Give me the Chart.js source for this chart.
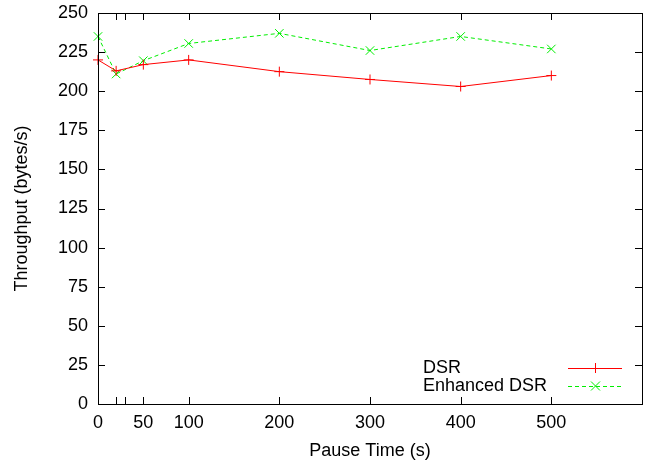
<!DOCTYPE html>
<html>
<head>
<meta charset="utf-8">
<script src="https://cdn.jsdelivr.net/npm/chart.js@4.4.1/dist/chart.umd.min.js"></script>
<style>
  html, body { margin: 0; padding: 0; background: #fff; }
  #wrap { width: 649px; height: 464px; }
</style>
</head>
<body>
<div id="wrap"><canvas id="ThroughputChart" width="649" height="464"></canvas></div>
<script>
// pause time (s) on the x axis
var PauseTimes = [0, 20, 50, 100, 200, 300, 400, 500];
var DsrThroughput = [220, 213, 217, 220, 212.5, 207.5, 203, 210];
var EnhancedDsrThroughput = [235, 211, 219.5, 230.5, 237, 226, 235, 227];
var XTicks = [0, 20, 30, 50, 100, 200, 300, 400, 500];
var XTickLabelsHidden = [20, 30];

function toPoints(xs, ys) {
    return xs.map(function (x, i) { return { x: x, y: ys[i] }; });
}

// gnuplot style frame with ticks pointing inwards, plus the key
var FramePlugin = {
    id: 'frame',
    afterDatasetsDraw: function (chart) {
        var ctx = chart.ctx;
        var a = chart.chartArea;
        var xs = chart.scales.x, ys = chart.scales.y;
        var tl = 7;
        ctx.save();
        ctx.strokeStyle = '#000';
        ctx.lineWidth = 1;
        ctx.beginPath();
        xs.ticks.forEach(function (t) {
            var px = Math.round(xs.getPixelForValue(t.value)) + 0.5;
            ctx.moveTo(px, a.bottom); ctx.lineTo(px, a.bottom - tl);
            ctx.moveTo(px, a.top); ctx.lineTo(px, a.top + tl);
        });
        ys.ticks.forEach(function (t) {
            var py = Math.round(ys.getPixelForValue(t.value)) + 0.5;
            ctx.moveTo(a.left, py); ctx.lineTo(a.left + tl, py);
            ctx.moveTo(a.right, py); ctx.lineTo(a.right - tl, py);
        });
        ctx.stroke();
        ctx.strokeRect(Math.round(a.left) + 0.5, Math.round(a.top) + 0.5,
            Math.round(a.right - a.left), Math.round(a.bottom - a.top));

        // key
        ctx.font = '18px "Liberation Sans", Arial, sans-serif';
        ctx.fillStyle = '#000';
        ctx.textBaseline = 'middle';
        ctx.textAlign = 'left';
        var rows = [368, 386];
        chart.data.datasets.forEach(function (ds, i) {
            var y = rows[i];
            ctx.fillText(ds.label, 423, y);
            ctx.strokeStyle = ds.borderColor;
            ctx.setLineDash(ds.borderDash || []);
            ctx.beginPath();
            ctx.moveTo(568, y + 0.5); ctx.lineTo(622, y + 0.5);
            ctx.stroke();
            ctx.setLineDash([]);
            var r = ds.pointRadius;
            ctx.beginPath();
            if (ds.pointStyle === 'cross') {
                ctx.moveTo(595.5 - r, y + 0.5); ctx.lineTo(595.5 + r, y + 0.5);
                ctx.moveTo(595.5, y - r); ctx.lineTo(595.5, y + r);
            } else {
                var d = r * 0.75;
                ctx.moveTo(595.5 - d, y - d); ctx.lineTo(595.5 + d, y + d);
                ctx.moveTo(595.5 - d, y + d); ctx.lineTo(595.5 + d, y - d);
            }
            ctx.stroke();
        });
        ctx.restore();
    }
};

var TickFont = { family: '"Liberation Sans", Arial, sans-serif', size: 18 };

new Chart(document.getElementById('ThroughputChart').getContext('2d'), {
    type: 'line',
    data: {
        datasets: [
            {
                label: 'DSR',
                data: toPoints(PauseTimes, DsrThroughput),
                borderColor: '#ff0000',
                backgroundColor: '#ff0000',
                borderWidth: 1,
                pointStyle: 'cross',
                pointRadius: 5,
                pointBorderWidth: 1,
                pointBorderColor: '#ff0000',
                fill: false,
                tension: 0
            },
            {
                label: 'Enhanced DSR',
                data: toPoints(PauseTimes, EnhancedDsrThroughput),
                borderColor: '#00ee00',
                backgroundColor: '#00ee00',
                borderWidth: 1,
                borderDash: [4, 3],
                pointStyle: 'crossRot',
                pointRadius: 6,
                pointBorderWidth: 1,
                pointBorderColor: '#00ee00',
                fill: false,
                tension: 0
            }
        ]
    },
    options: {
        responsive: false,
        animation: false,
        clip: false,
        layout: { padding: { top: 13, right: 6, left: 0, bottom: 0 } },
        plugins: {
            legend: { display: false },
            tooltip: { enabled: false }
        },
        scales: {
            x: {
                type: 'linear',
                min: 0,
                max: 600,
                afterBuildTicks: function (scale) {
                    scale.ticks = XTicks.map(function (v) { return { value: v }; });
                },
                afterFit: function (scale) {
                    scale.height = 60;
                    scale.paddingLeft = 0;
                    scale.paddingRight = 0;
                },
                grid: { display: false, drawTicks: false },
                border: { display: false },
                ticks: {
                    autoSkip: false,
                    maxRotation: 0,
                    padding: 8,
                    color: '#000',
                    font: TickFont,
                    callback: function (v) {
                        return XTickLabelsHidden.indexOf(v) >= 0 ? '' : String(v);
                    }
                },
                title: {
                    display: true,
                    text: 'Pause Time (s)',
                    color: '#000',
                    font: TickFont,
                    padding: { top: 0, bottom: 2 }
                }
            },
            y: {
                min: 0,
                max: 250,
                afterFit: function (scale) {
                    scale.width = 98;
                    scale.paddingTop = 0;
                    scale.paddingBottom = 0;
                },
                grid: { display: false, drawTicks: false },
                border: { display: false },
                ticks: {
                    stepSize: 25,
                    padding: 10,
                    color: '#000',
                    font: TickFont
                },
                title: {
                    display: true,
                    text: 'Throughput (bytes/s)',
                    color: '#000',
                    font: TickFont,
                    padding: { top: 11, bottom: 0 }
                }
            }
        }
    },
    plugins: [FramePlugin]
});
</script>
</body>
</html>
